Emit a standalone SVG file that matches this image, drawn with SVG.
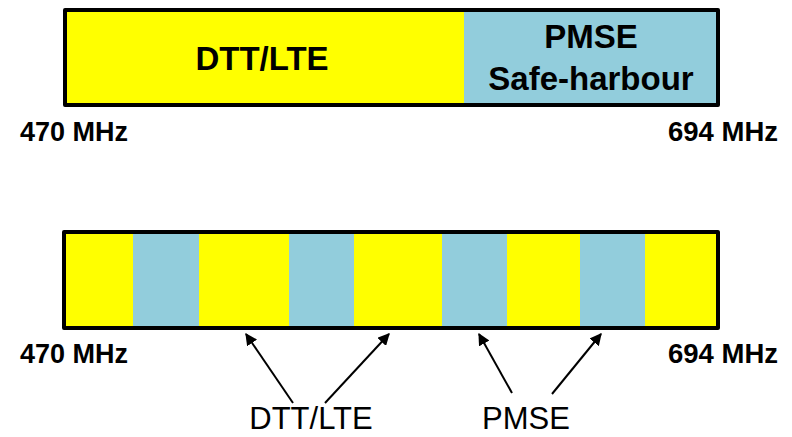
<svg xmlns="http://www.w3.org/2000/svg" width="792" height="437" viewBox="0 0 792 437">
  <style>
    .dtt { fill: #ffff00; }
    .pmse { fill: #92cddc; }
    .frame { fill: none; stroke: #000; stroke-width: 4; stroke-linejoin: round; }
    .lbl { font-family: "Liberation Sans", Arial, sans-serif; fill: #000; text-anchor: middle; }
    .band { font-size: 33px; font-weight: bold; }
    .freq { font-family: "Liberation Sans", Arial, sans-serif; font-size: 27px; font-weight: bold; fill: #000; }
    .call { font-size: 31px; }
    .arrow { stroke: #000; stroke-width: 2; fill: none; marker-end: url(#head); }
  </style>
  <defs>
    <marker id="head" viewBox="0 0 10 10" refX="9" refY="5" markerWidth="6" markerHeight="6" orient="auto" markerUnits="strokeWidth">
      <path d="M0,0 L10,5 L0,10 z" fill="#000"/>
    </marker>
  </defs>

  <!-- Upper band plan: contiguous DTT/LTE + PMSE safe-harbour -->
  <g id="upper-dtt">
    <rect class="dtt" x="65" y="10" width="399" height="95"/>
    <text class="lbl band" x="262" y="70">DTT/LTE</text>
  </g>
  <g id="upper-pmse">
    <rect class="pmse" x="464" y="10" width="254" height="95"/>
    <text class="lbl band" x="591" y="48">PMSE</text>
    <text class="lbl band" x="591" y="90">Safe-harbour</text>
  </g>
  <rect class="frame" x="65" y="10" width="653" height="95"/>
  <text id="upper-470" class="freq" x="20" y="141" textLength="108" lengthAdjust="spacingAndGlyphs">470 MHz</text>
  <text id="upper-694" class="freq" x="778" y="141" text-anchor="end" textLength="110" lengthAdjust="spacingAndGlyphs">694 MHz</text>

  <!-- Lower band plan: interleaved DTT/LTE and PMSE -->
  <g id="lower-bands">
    <rect class="dtt" x="64" y="232" width="654" height="96"/>
    <rect class="pmse" x="133" y="232" width="66" height="96"/>
    <rect class="pmse" x="289" y="232" width="65" height="96"/>
    <rect class="pmse" x="442" y="232" width="65" height="96"/>
    <rect class="pmse" x="580" y="232" width="65" height="96"/>
    <rect class="frame" x="64" y="232" width="654" height="96"/>
  </g>
  <text id="lower-470" class="freq" x="20" y="363" textLength="108" lengthAdjust="spacingAndGlyphs">470 MHz</text>
  <text id="lower-694" class="freq" x="778" y="363" text-anchor="end" textLength="110" lengthAdjust="spacingAndGlyphs">694 MHz</text>

  <g id="connectors">
    <line class="arrow" x1="293" y1="403" x2="246" y2="334"/>
    <line class="arrow" x1="325" y1="403" x2="389" y2="334"/>
    <line class="arrow" x1="512" y1="393" x2="479" y2="334"/>
    <line class="arrow" x1="552" y1="394" x2="601" y2="334"/>
  </g>

  <g id="label-dtt">
    <text class="lbl call" x="311" y="429">DTT/LTE</text>
  </g>
  <g id="label-pmse">
    <text class="lbl call" x="526" y="429">PMSE</text>
  </g>
</svg>
